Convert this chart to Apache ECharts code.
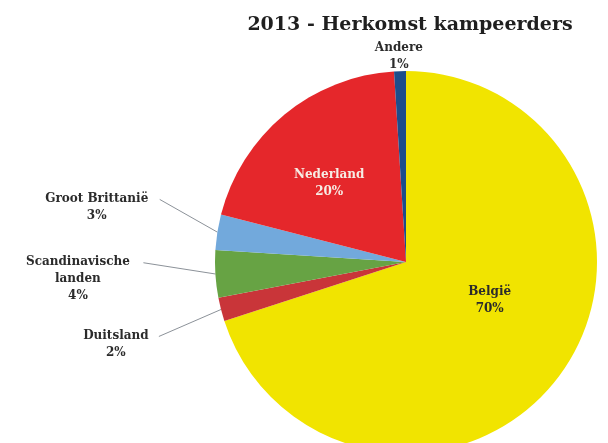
<!DOCTYPE html>
<html>
<head>
<meta charset="utf-8">
<script src="https://cdn.jsdelivr.net/npm/echarts@6/dist/echarts.min.js"></script>
<style>
  html, body { margin: 0; padding: 0; background: #fff; }
  #chart { width: 608px; height: 443px; }
</style>
</head>
<body>
<div id="chart"></div>
<script>
// herkomst kampeerders 2013, volgorde met de klok mee vanaf 12 uur
var landen = ["België", "Duitsland", "Scandinavische\nlanden", "Groot Brittanië", "Nederland", "Andere"];
var aandeel = [70, 2, 4, 3, 20, 1];
var kleuren = ["#f1e400", "#c93539", "#67a344", "#72a9dc", "#e5272b", "#1d4d8b"];

var font = "DejaVu Serif";
var chart = echarts.init(document.getElementById("chart"));

// verschuiving van de labels t.o.v. de standaardplek
var verschuiving = [[0, 0], [-13, 28], [-10, 4], [-6, -20], [0, 0], [34, -11]];

var outerLabel = function (w) {
  return {
    position: "outside",
    color: "#2b2b2b",
    formatter: function (p) {
      return p.name.split("\n").map(function (s) { return "{t|" + s + "}"; }).join("\n") + "\n{t|" + p.value + "%}";
    },
    rich: { t: { width: w, align: "center", fontFamily: font, fontWeight: "bold", fontSize: 12, lineHeight: 17, color: "#2b2b2b" } }
  };
};

var data = landen.map(function (naam, i) {
  return { name: naam, value: aandeel[i], itemStyle: { color: kleuren[i] } };
});
data[0].label = { position: "inside", color: "#2b2b2b", offset: [4, -20] };
data[0].labelLine = { show: false };
data[4].label = { position: "inside", color: "#f6ece4", offset: [-14, -3] };
data[4].labelLine = { show: false };
data[1].label = outerLabel(80);
data[1].labelLine = { length: 28, length2: 20 };
data[2].label = outerLabel(125);
data[2].labelLine = { length: 20, length2: 40 };
data[3].label = outerLabel(120);
data[3].labelLine = { length: 30, length2: 20 };
data[5].label = outerLabel(60);
data[5].labelLine = { show: false, length: 4, length2: 0 };

chart.setOption({
  backgroundColor: "#fff",
  animation: false,
  title: {
    text: "2013 - Herkomst kampeerders",
    left: 405,
    textAlign: "center",
    top: 11,
    textStyle: { fontFamily: font, fontWeight: "bold", fontSize: 19, color: "#1f1f1f" }
  },
  series: [{
    type: "pie",
    center: [406, 262],
    radius: 191,
    startAngle: 90,
    clockwise: true,
    avoidLabelOverlap: false,
    data: data,
    label: {
      formatter: "{b}\n{c}%",
      fontFamily: font,
      fontWeight: "bold",
      fontSize: 12,
      lineHeight: 17,
      align: "center"
    },
    labelLine: { lineStyle: { color: "#8c9299", width: 1 } },
    labelLayout: function (p) {
      var d = verschuiving[p.dataIndex];
      var out = { dx: d[0], dy: d[1], hideOverlap: false };
      var pts = p.labelLinePoints;
      if (pts && pts.length) {
        var r = p.labelRect;
        // lijn van de rand van de taart naar het einde van de eerste regel
        out.labelLinePoints = [pts[0], [r.x + r.width + d[0] + 3, r.y + d[1] + 9]];
      }
      return out;
    }
  }]
});
</script>
</body>
</html>
